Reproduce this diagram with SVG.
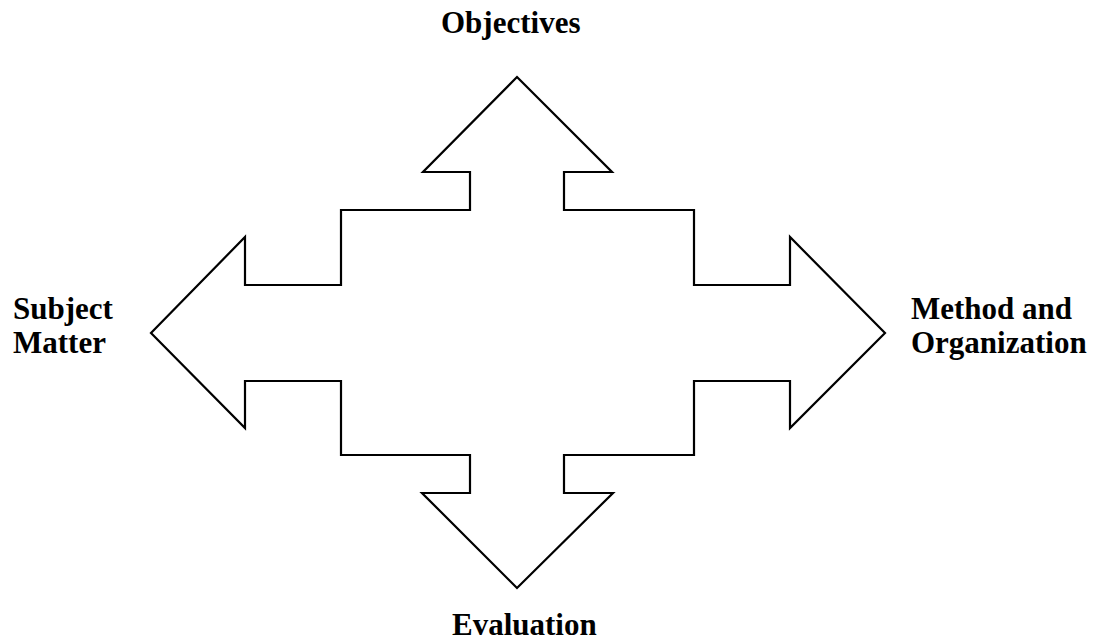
<svg xmlns="http://www.w3.org/2000/svg" width="1100" height="641" viewBox="0 0 1100 641">
<style>
.lbl{font-family:"Liberation Serif","Times New Roman",serif;font-weight:bold;font-size:31px;fill:#000}
.shape{fill:#fff;stroke:#000;stroke-width:2.2;stroke-linejoin:miter}
</style>
<rect width="1100" height="641" fill="#fff"/>
<g id="cross">
<polygon class="shape" points="517,77 612,172 564,172 564,210 694,210 694,285 790,285 790,237 885,333 790,428 790,381 694,381 694,455 564,455 564,493 613,493 517,588 422,493 470,493 470,455 341,455 341,381 245,381 245,428 151,333 245,237 245,285 341,285 341,210 470,210 470,172 423,172"/>
</g>
<g id="objectives"><text class="lbl" x="441" y="33">Objectives</text></g>
<g id="subject-matter"><text class="lbl" x="13" y="319">Subject</text><text class="lbl" x="13" y="353">Matter</text></g>
<g id="method-organization"><text class="lbl" x="911" y="319">Method and</text><text class="lbl" x="911" y="353">Organization</text></g>
<g id="evaluation"><text class="lbl" x="452" y="635">Evaluation</text></g>
<g id="connectors"></g>
</svg>
